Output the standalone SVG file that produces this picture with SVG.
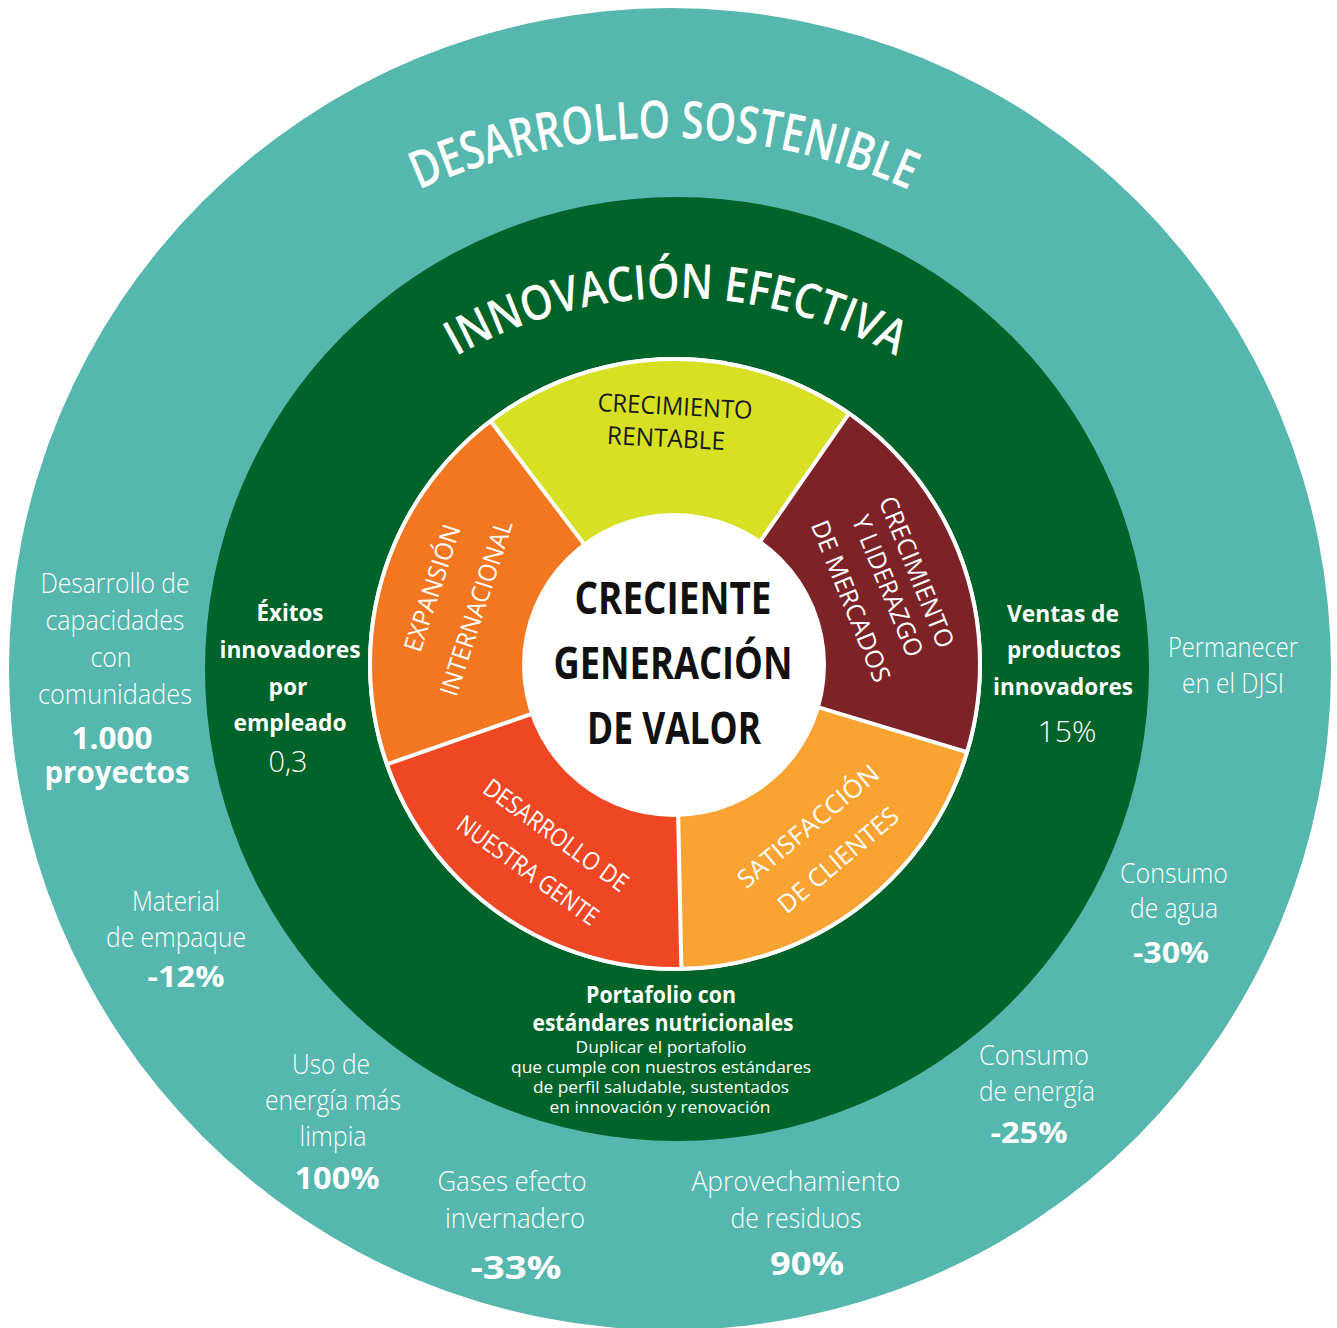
<svg xmlns="http://www.w3.org/2000/svg" width="1337" height="1328" viewBox="0 0 1337 1328">
<style>
text{font-family:"Open Sans","Noto Sans","Liberation Sans",sans-serif;text-anchor:middle}
.lt{fill:#fff;font-size:27px;font-weight:300}
.bn{fill:#fff;font-weight:700}
.gb{fill:#fff;font-size:23px;font-weight:700}
.seg{font-size:25px;font-weight:400}
.w{fill:#fff}
.k{fill:#1a1a1a}
.ctr{fill:#111;font-size:45px;font-weight:700}
.arc{fill:#fff;font-weight:600}
.sm{fill:#fff;font-size:16px;font-weight:400}
.sep{stroke:#fff;stroke-width:4;fill:none}
</style>
<defs>
<path id="arcOuter" d="M 140.9 440 A 604 604 0 0 1 1187.1 440"/>
<path id="arcInner" d="M 291.5 520 A 444 444 0 0 1 1060.5 520"/>
</defs>
<g id="rings">
<circle id="outer-ring" cx="670" cy="669" r="661" fill="#55b7ad"/>
<circle id="middle-ring" cx="677" cy="669" r="472" fill="#00632a"/>
</g>
<g id="titles">
<text class="arc" font-size="52"><textPath href="#arcOuter" startOffset="50%" textLength="505" lengthAdjust="spacingAndGlyphs">DESARROLLO SOSTENIBLE</textPath></text>
<text class="arc" font-size="48"><textPath href="#arcInner" startOffset="50%" textLength="460" lengthAdjust="spacingAndGlyphs">INNOVACIÓN EFECTIVA</textPath></text>
</g>
<g id="wheel">
<circle cx="675" cy="664" r="307" fill="#fff"/>
<g id="seg-crecimiento-rentable"><path d="M675 664 L849.6 412.7 A306 306 0 0 0 490.0 420.3 Z" fill="#d7e023"/></g>
<g id="seg-expansion"><path d="M675 664 L490.0 420.3 A306 306 0 0 0 386.0 764.6 Z" fill="#f37721"/></g>
<g id="seg-desarrollo-gente"><path d="M675 664 L386.0 764.6 A306 306 0 0 0 681.4 969.9 Z" fill="#ef4723"/></g>
<g id="seg-satisfaccion"><path d="M675 664 L681.4 969.9 A306 306 0 0 0 967.9 752.4 Z" fill="#f8a332"/></g>
<g id="seg-liderazgo"><path d="M675 664 L967.9 752.4 A306 306 0 0 0 849.6 412.7 Z" fill="#7d2328"/></g>
<g id="separators">
<line class="sep" x1="675" y1="664" x2="849.6" y2="412.7"/>
<line class="sep" x1="675" y1="664" x2="490.0" y2="420.3"/>
<line class="sep" x1="675" y1="664" x2="386.0" y2="764.6"/>
<line class="sep" x1="675" y1="664" x2="681.4" y2="969.9"/>
<line class="sep" x1="675" y1="664" x2="967.9" y2="752.4"/>
<circle class="sep" cx="675" cy="664" r="305"/>
</g>
<circle id="center" cx="674" cy="665" r="152" fill="#fff"/>
</g>
<g id="wheel-labels">
<g transform="translate(675,406) rotate(3)"><text class="seg k" y="9" textLength="155" lengthAdjust="spacingAndGlyphs">CRECIMIENTO</text></g>
<g transform="translate(666,438) rotate(3)"><text class="seg k" y="9" textLength="118" lengthAdjust="spacingAndGlyphs">RENTABLE</text></g>
<g transform="translate(432,588) rotate(-72)"><text class="seg w" y="9" textLength="132" lengthAdjust="spacingAndGlyphs">EXPANSIÓN</text></g>
<g transform="translate(476,608) rotate(-72)"><text class="seg w" y="9" textLength="183" lengthAdjust="spacingAndGlyphs">INTERNACIONAL</text></g>
<g transform="translate(917,572) rotate(68)"><text class="seg w" y="9" textLength="161" lengthAdjust="spacingAndGlyphs">CRECIMIENTO</text></g>
<g transform="translate(888,586) rotate(68)"><text class="seg w" y="9" textLength="150" lengthAdjust="spacingAndGlyphs">Y LIDERAZGO</text></g>
<g transform="translate(851,601) rotate(68)"><text class="seg w" y="9" textLength="172" lengthAdjust="spacingAndGlyphs">DE MERCADOS</text></g>
<g transform="translate(556,835) rotate(36)"><text class="seg w" y="9" textLength="172" lengthAdjust="spacingAndGlyphs">DESARROLLO DE</text></g>
<g transform="translate(528,870) rotate(36)"><text class="seg w" y="9" textLength="168" lengthAdjust="spacingAndGlyphs">NUESTRA GENTE</text></g>
<g transform="translate(808,826) rotate(-40)"><text class="seg w" y="9" textLength="176" lengthAdjust="spacingAndGlyphs">SATISFACCIÓN</text></g>
<g transform="translate(838,860) rotate(-40)"><text class="seg w" y="9" textLength="149" lengthAdjust="spacingAndGlyphs">DE CLIENTES</text></g>
<text class="ctr" x="673" y="614" textLength="197" lengthAdjust="spacingAndGlyphs">CRECIENTE</text>
<text class="ctr" x="673" y="679" textLength="239" lengthAdjust="spacingAndGlyphs">GENERACIÓN</text>
<text class="ctr" x="674" y="744" textLength="174" lengthAdjust="spacingAndGlyphs">DE VALOR</text>
</g>
<g id="innovation-labels">
<g id="exitos">
<text class="gb" x="290" y="621" textLength="67" lengthAdjust="spacingAndGlyphs">Éxitos</text>
<text class="gb" x="290" y="658" textLength="141" lengthAdjust="spacingAndGlyphs">innovadores</text>
<text class="gb" x="288" y="695" textLength="39" lengthAdjust="spacingAndGlyphs">por</text>
<text class="gb" x="290" y="731" textLength="113" lengthAdjust="spacingAndGlyphs">empleado</text>
<text class="w" x="288" y="772" font-size="29" font-weight="300" textLength="39" lengthAdjust="spacingAndGlyphs">0,3</text>
</g>
<g id="ventas">
<text class="gb" x="1063" y="622" textLength="112" lengthAdjust="spacingAndGlyphs">Ventas de</text>
<text class="gb" x="1064" y="658" textLength="114" lengthAdjust="spacingAndGlyphs">productos</text>
<text class="gb" x="1063" y="695" textLength="140" lengthAdjust="spacingAndGlyphs">innovadores</text>
<text class="w" x="1067" y="742" font-size="29" font-weight="300" textLength="59" lengthAdjust="spacingAndGlyphs">15%</text>
</g>
<g id="portafolio">
<text class="gb" x="661" y="1003" font-size="21" textLength="150" lengthAdjust="spacingAndGlyphs">Portafolio con</text>
<text class="gb" x="663" y="1031" font-size="21" textLength="261" lengthAdjust="spacingAndGlyphs">estándares nutricionales</text>
<text class="sm" x="661" y="1053" textLength="171" lengthAdjust="spacingAndGlyphs">Duplicar el portafolio</text>
<text class="sm" x="661" y="1073" textLength="300" lengthAdjust="spacingAndGlyphs">que cumple con nuestros estándares</text>
<text class="sm" x="661" y="1093" textLength="256" lengthAdjust="spacingAndGlyphs">de perfil saludable, sustentados</text>
<text class="sm" x="660" y="1113" textLength="221" lengthAdjust="spacingAndGlyphs">en innovación y renovación</text>
</g>
</g>
<g id="sustainability-labels">
<g id="comunidades">
<text class="lt" x="115" y="593" textLength="149" lengthAdjust="spacingAndGlyphs">Desarrollo de</text>
<text class="lt" x="115" y="630" textLength="139" lengthAdjust="spacingAndGlyphs">capacidades</text>
<text class="lt" x="111" y="667" textLength="41" lengthAdjust="spacingAndGlyphs">con</text>
<text class="lt" x="115" y="704" textLength="154" lengthAdjust="spacingAndGlyphs">comunidades</text>
<text class="bn" x="112" y="749" font-size="30" textLength="81" lengthAdjust="spacingAndGlyphs">1.000</text>
<text class="bn" x="117" y="783" font-size="30" textLength="145" lengthAdjust="spacingAndGlyphs">proyectos</text>
</g>
<g id="empaque">
<text class="lt" x="176" y="911" textLength="88" lengthAdjust="spacingAndGlyphs">Material</text>
<text class="lt" x="176" y="947" textLength="140" lengthAdjust="spacingAndGlyphs">de empaque</text>
<text class="bn" x="186" y="987" font-size="29" textLength="77" lengthAdjust="spacingAndGlyphs">-12%</text>
</g>
<g id="energia-limpia">
<text class="lt" x="331" y="1074" textLength="78" lengthAdjust="spacingAndGlyphs">Uso de</text>
<text class="lt" x="333" y="1110" textLength="136" lengthAdjust="spacingAndGlyphs">energía más</text>
<text class="lt" x="333" y="1146" textLength="67" lengthAdjust="spacingAndGlyphs">limpia</text>
<text class="bn" x="337" y="1189" font-size="30" textLength="85" lengthAdjust="spacingAndGlyphs">100%</text>
</g>
<g id="gases">
<text class="lt" x="512" y="1191" textLength="149" lengthAdjust="spacingAndGlyphs">Gases efecto</text>
<text class="lt" x="515" y="1228" textLength="140" lengthAdjust="spacingAndGlyphs">invernadero</text>
<text class="bn" x="516" y="1279" font-size="32" textLength="91" lengthAdjust="spacingAndGlyphs">-33%</text>
</g>
<g id="residuos">
<text class="lt" x="796" y="1191" textLength="209" lengthAdjust="spacingAndGlyphs">Aprovechamiento</text>
<text class="lt" x="796" y="1228" textLength="131" lengthAdjust="spacingAndGlyphs">de residuos</text>
<text class="bn" x="807" y="1275" font-size="32" textLength="74" lengthAdjust="spacingAndGlyphs">90%</text>
</g>
<g id="energia">
<text class="lt" x="1034" y="1065" textLength="110" lengthAdjust="spacingAndGlyphs">Consumo</text>
<text class="lt" x="1037" y="1101" textLength="116" lengthAdjust="spacingAndGlyphs">de energía</text>
<text class="bn" x="1029" y="1143" font-size="29" textLength="77" lengthAdjust="spacingAndGlyphs">-25%</text>
</g>
<g id="agua">
<text class="lt" x="1174" y="883" textLength="108" lengthAdjust="spacingAndGlyphs">Consumo</text>
<text class="lt" x="1174" y="918" textLength="88" lengthAdjust="spacingAndGlyphs">de agua</text>
<text class="bn" x="1171" y="963" font-size="29" textLength="76" lengthAdjust="spacingAndGlyphs">-30%</text>
</g>
<g id="djsi">
<text class="lt" x="1233" y="657" textLength="130" lengthAdjust="spacingAndGlyphs">Permanecer</text>
<text class="lt" x="1233" y="693" textLength="102" lengthAdjust="spacingAndGlyphs">en el DJSI</text>
</g>
</g>
<g id="connectors"/>
</svg>
